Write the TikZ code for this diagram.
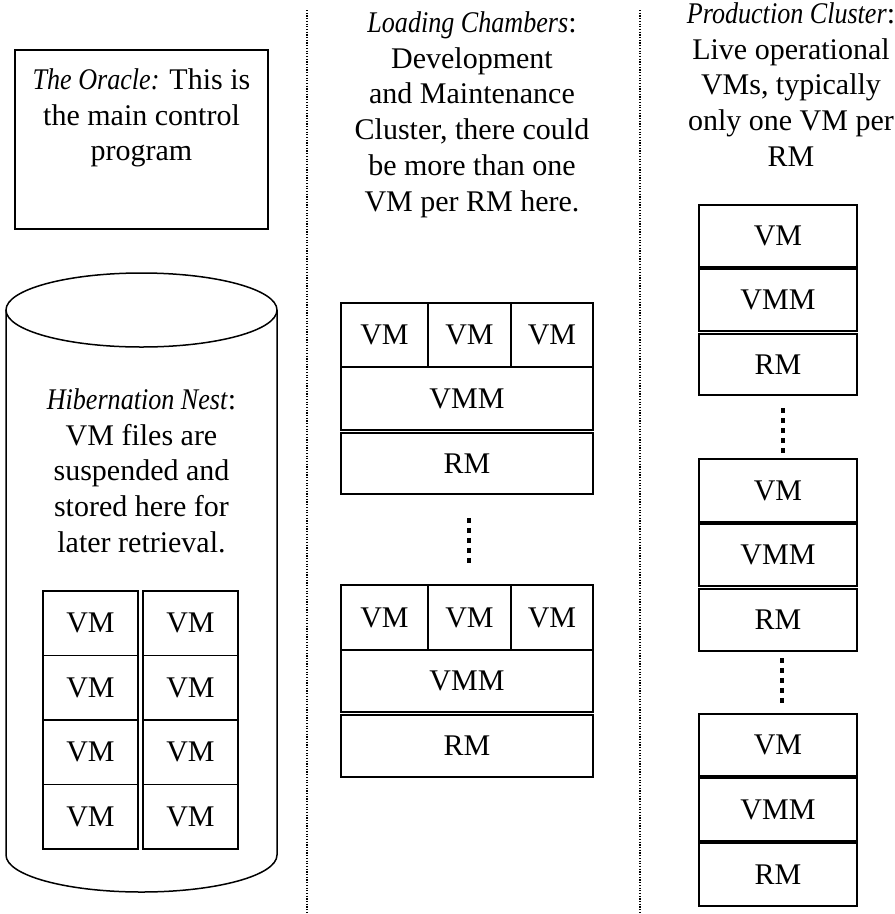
\documentclass[tikz,border=0pt]{standalone}
\usepackage{fontspec}
\setmainfont{Liberation Serif}[ItalicFeatures={FakeStretch=0.87}]
\begin{document}
\begin{tikzpicture}[x=1pt,y=-1pt,
  every node/.style={font=\fontsize{30}{35.8}\selectfont, inner sep=0pt, outer sep=0pt},
  cell/.style={draw, line width=1.4pt},
  lbl/.style={align=center, anchor=north},
  sep/.style={line width=1.2pt, dash pattern=on 1.2pt off 1.5pt},
  more/.style={line width=4.5pt, dash pattern=on 4.5pt off 5.6pt}]
\useasboundingbox (0,0) rectangle (895,914);

% separators
\coordinate (s1t) at (307,10);
\coordinate (s1b) at (307,913);
\coordinate (s2t) at (640,10);
\coordinate (s2b) at (640,913);
\draw[sep] (s1t) -- (s1b);
\draw[sep] (s2t) -- (s2b);

% Oracle
\node[draw, line width=1.5pt, minimum width=253pt, minimum height=179pt] (oracle) at (141.5,139.5) {};
\node[lbl] (oracletext) at (141.5,68.5) {\textit{The Oracle:} This is\\the main control\\program};

% Hibernation nest cylinder
\draw[line width=1.5pt] (141.5,310) ellipse [x radius=135.5pt, y radius=37pt];
\draw[line width=1.5pt] (6,310) -- (6,855) arc[start angle=180, end angle=360, x radius=135.5pt, y radius=37pt] -- (277,310);
\node[lbl] (nesttext) at (141.5,388.5) {\textit{Hibernation Nest}:\\VM files are\\suspended and\\stored here for\\later retrieval.};
\foreach \r/\yc in {1/623.25, 2/687.75, 3/752.25, 4/816.75} {
  \node[cell, minimum width=95pt, minimum height=64.5pt] (hl\r) at (90.5,\yc) {VM};
  \node[cell, minimum width=95pt, minimum height=64.5pt] (hr\r) at (190.5,\yc) {VM};
}

% Loading chambers
\node[lbl] (loadtext) at (472,11.5) {\textit{Loading Chambers}:\\Development\\and Maintenance\\Cluster, there could\\be more than one\\VM per RM here.};
\node[cell, minimum width=87pt, minimum height=64pt] (l1a) at (384.5,335) {VM};
\node[cell, minimum width=83pt, minimum height=64pt] (l1b) at (469.5,335) {VM};
\node[cell, minimum width=82pt, minimum height=64pt] (l1c) at (552,335) {VM};
\node[cell, minimum width=252pt, minimum height=63pt] (l1vmm) at (467,398.5) {VMM};
\node[cell, minimum width=252pt, minimum height=61pt] (l1rm) at (467,463.5) {RM};

\node[cell, minimum width=87pt, minimum height=65pt] (l2a) at (384.5,617.5) {VM};
\node[cell, minimum width=83pt, minimum height=65pt] (l2b) at (469.5,617.5) {VM};
\node[cell, minimum width=82pt, minimum height=65pt] (l2c) at (552,617.5) {VM};
\node[cell, minimum width=252pt, minimum height=62pt] (l2vmm) at (467,681) {VMM};
\node[cell, minimum width=252pt, minimum height=62pt] (l2rm) at (467,746) {RM};

\draw[more, shorten <=24pt, shorten >=22pt] ([xshift=2pt]l1rm.south) -- ([xshift=2pt]l2vmm.north |- l2a.north);

% Production cluster
\node[lbl] (prodtext) at (791,2.5) {\textit{Production Cluster}:\\Live operational\\VMs, typically\\only one VM per\\RM};
\node[cell, minimum width=158pt, minimum height=62pt] (p1vm) at (778,236) {VM};
\node[cell, minimum width=158pt, minimum height=62pt] (p1vmm) at (778,300) {VMM};
\node[cell, minimum width=158pt, minimum height=61pt] (p1rm) at (778,364.5) {RM};

\node[cell, minimum width=158pt, minimum height=63pt] (p2vm) at (778,490.5) {VM};
\node[cell, minimum width=158pt, minimum height=62pt] (p2vmm) at (778,555) {VMM};
\node[cell, minimum width=158pt, minimum height=62pt] (p2rm) at (778,620) {RM};

\node[cell, minimum width=158pt, minimum height=62pt] (p3vm) at (778,745) {VM};
\node[cell, minimum width=158pt, minimum height=63pt] (p3vmm) at (778,809.5) {VMM};
\node[cell, minimum width=158pt, minimum height=63pt] (p3rm) at (778,874.5) {RM};

\draw[more, shorten <=13pt, shorten >=6pt] ([xshift=5pt]p1rm.south) -- ([xshift=5pt]p2vm.north);
\draw[more, shorten <=7pt, shorten >=11pt] ([xshift=4pt]p2rm.south) -- ([xshift=4pt]p3vm.north);
\end{tikzpicture}
\end{document}
